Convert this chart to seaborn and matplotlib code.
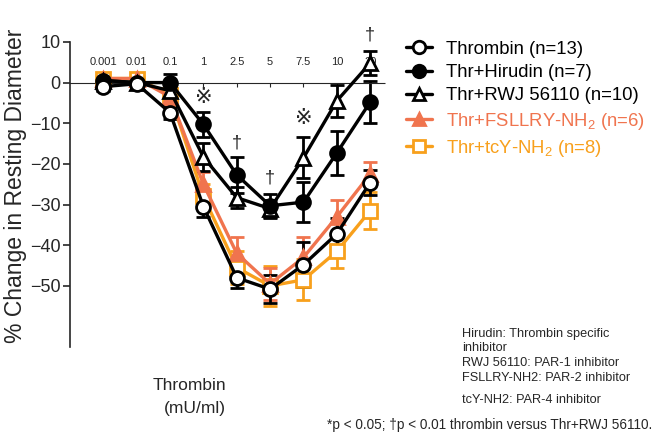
import matplotlib
matplotlib.use("Agg")
import matplotlib.pyplot as plt
from matplotlib.lines import Line2D
import pandas as pd
import seaborn as sns

# doses of thrombin (mU/ml), plotted as evenly spaced categories
doses = ['0.001', '0.01', '0.1', '1', '2.5', '5', '7.5', '10', '20']

thrombin_mean = [-1, -0.3, -7.4, -30.5, -48, -50.8, -44.8, -37.2, -24.6]
thrombin_err = [1, 1, 1.5, 2.5, 2.5, 3.5, 5.5, 4, 3]
hirudin_mean = [0.5, 0, 0, -10.3, -22.7, -30.3, -29.4, -17.3, -4.8]
hirudin_err = [0.5, 0.5, 2, 3, 4.5, 3, 5, 5.5, 5.2]
rwj_mean = [0.5, 0, -2, -18.3, -28.3, -31, -18.5, -4.5, 4.8]
rwj_err = [0.5, 0.5, 2, 3.5, 2.5, 2, 5, 4, 3]
fsllry_mean = [1, 1, -3.5, -25, -42, -49.5, -43, -33, -22.5]
fsllry_err = [0.8, 0.8, 2, 3, 4, 4, 5, 4, 3]
tcy_mean = [1, 1, -3, -28, -45.5, -50, -48.5, -41.5, -31.5]
tcy_err = [1, 1, 2, 3, 4, 5, 5, 4, 4.5]

labels = ['Thrombin (n=13)', 'Thr+Hirudin (n=7)', 'Thr+RWJ 56110 (n=10)',
          'Thr+FSLLRY-NH$_2$ (n=6)', 'Thr+tcY-NH$_2$ (n=8)']

star_doses = ['1', '7.5']
star_y = [-3.5, -8.6]
dagger_doses = ['2.5', '5', '20']
dagger_y = [-14.8, -23.4, 11.8]

sns.set_style("ticks")
plt.rcParams['font.family'] = ['Liberation Sans', 'DejaVu Sans']
plt.rcParams['mathtext.default'] = 'regular'

coral = '#F0744E'
orange = '#F8A01C'
groups = {
    labels[4]: (tcy_mean, tcy_err, orange, 's', 'white'),
    labels[3]: (fsllry_mean, fsllry_err, coral, '^', coral),
    labels[2]: (rwj_mean, rwj_err, 'black', '^', 'white'),
    labels[1]: (hirudin_mean, hirudin_err, 'black', 'o', 'black'),
    labels[0]: (thrombin_mean, thrombin_err, 'black', 'o', 'white'),
}

rows = []
for name, (m, e, c, mk, fc) in groups.items():
    for i, d in enumerate(doses):
        rows.append({'group': name, 'pos': i, 'dose': d, 'mean': m[i], 'err': e[i]})
df = pd.DataFrame(rows)

fig = plt.figure(figsize=(6.54, 4.32), dpi=100)
ax = fig.add_axes([0.107, 0.197, 0.482, 0.706])

for name, (m, e, c, mk, fc) in groups.items():
    sub = df[df.group == name]
    ax.errorbar(sub['pos'], sub['mean'], yerr=sub['err'], fmt='none', ecolor=c,
                elinewidth=2, capsize=5, capthick=2, clip_on=False, zorder=2)
    sns.lineplot(data=sub, x='pos', y='mean', ax=ax, color=c, lw=2.4,
                 marker=mk, markersize=10, markerfacecolor=fc,
                 markeredgecolor=c, markeredgewidth=2, clip_on=False, zorder=3)

for d, y in zip(star_doses, star_y):
    ax.text(doses.index(d), y, '※', ha='center', va='center', fontsize=15,
            family=['DejaVu Sans'])
for d, y in zip(dagger_doses, dagger_y):
    ax.text(doses.index(d), y, '†', ha='center', va='center', fontsize=13)

ax.set_xlim(-1, 8.45)
ax.set_ylim(-65, 10)
ax.set_yticks([10, 0, -10, -20, -30, -40, -50])
ax.set_xticks(range(len(doses)))
ax.set_xticklabels(doses)
ax.xaxis.tick_top()
ax.spines['top'].set_position(('data', 0))
ax.spines['top'].set_linestyle((0, (1, 1)))
ax.spines['right'].set_visible(False)
ax.spines['bottom'].set_visible(False)
ax.tick_params(axis='x', direction='in', length=3, pad=11, labelsize=8)
ax.tick_params(axis='y', direction='out', length=5, width=1.2, labelsize=13, pad=2)
ax.spines['left'].set_linewidth(1.2)
ax.set_xlabel('')
ax.set_ylabel('% Change in Resting Diameter', fontsize=16.5)
ax.yaxis.set_label_coords(-0.135, 0.528)

handles = []
for name in labels:
    m, e, c, mk, fc = groups[name]
    handles.append(Line2D([], [], color=c, lw=2.4, marker=mk, markersize=9,
                          markerfacecolor=fc, markeredgecolor=c, markeredgewidth=2))
fig.legend(handles=handles, labels=labels, loc='upper left',
           bbox_to_anchor=(0.595, 0.944), frameon=False, fontsize=13.3,
           labelspacing=0.34, handlelength=1.4, handletextpad=0.8,
           labelcolor=['black', 'black', 'black', coral, orange])

fig.text(0.346, 0.081, 'Thrombin\n(mU/ml)', ha='right', va='center',
         multialignment='right', fontsize=12.5, linespacing=1.65)
fig.text(0.706, 0.176, 'Hirudin: Thrombin specific\ninhibitor\nRWJ 56110: PAR-1 inhibitor\n'
         'FSLLRY-NH2: PAR-2 inhibitor', ha='left', va='center', fontsize=9.2,
         linespacing=1.33)
fig.text(0.706, 0.074, 'tcY-NH2: PAR-4 inhibitor', ha='left', va='center', fontsize=9.2)
fig.text(0.997, 0.016, '*p < 0.05; \u2020p < 0.01 thrombin versus Thr+RWJ 56110.',
         ha='right', va='center', fontsize=9.8)

fig.savefig('out.png', dpi=100)
